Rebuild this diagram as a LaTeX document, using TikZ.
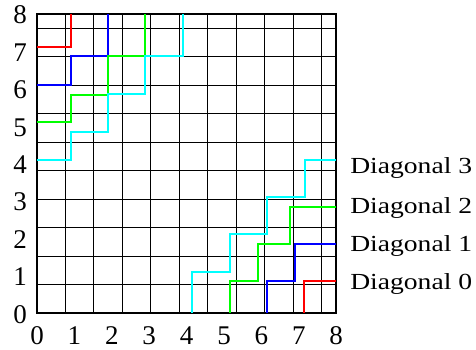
\documentclass[tikz,border=0pt]{standalone}
\usepackage{fontspec}
\setmainfont{Liberation Serif}
\definecolor{diagred}{RGB}{255,0,0}
\definecolor{diagblue}{RGB}{0,0,255}
\definecolor{diaggreen}{RGB}{0,255,0}
\definecolor{diagcyan}{RGB}{0,255,255}
\begin{document}
\begin{tikzpicture}[x=37.4pt,y=37.4pt,
	every node/.style={inner sep=0pt,font=\fontsize{27}{27}\selectfont},
	diaglabel/.style={anchor=base west,font=\fontsize{23}{23}\selectfont,xscale=1.2,transform shape},
	walk/.style={line width=2pt},
	d0/.style={walk,diagred}, d1/.style={walk,diagblue}, d2/.style={walk,diaggreen}, d3/.style={walk,diagcyan}]
	\useasboundingbox (-37pt,-37pt) rectangle (439pt,313pt);

	\draw[line width=1.1pt] (0,0) grid (8,8);
	\draw[line width=2pt] (0,0) rectangle (8,8);

	\foreach \k in {0,...,8} {
		\node[anchor=base] (x\k) at (\k,-0.85) {\k};
		\node[anchor=base] (y\k) at (-0.45,\k-0.27) {\k};
	}

	% diagonal 0
	\draw[d0] (0,7.12) -| (0.9,8);
	\draw[d0] (7.14,0) |- (8,0.86);
	% diagonal 1
	\draw[d1] (0,6.1) -| (0.9,6.86) -| (1.9,8);
	\draw[d1] (6.15,0) |- (6.9,0.86) |- (8,1.84);
	% diagonal 2
	\draw[d2] (0,5.1) -| (0.9,5.84) -| (1.9,6.86) -| (2.9,8);
	\draw[d2] (5.16,0) |- (5.9,0.86) |- (6.77,1.84) |- (8,2.84);
	% diagonal 3
	\draw[d3] (0,4.1) -| (0.9,4.85) -| (1.9,5.85) -| (2.9,6.86) -| (3.9,8);
	\draw[d3] (4.15,0) |- (5.16,1.09) |- (6.16,2.1) |- (7.16,3.09) |- (8,4.09);

	\node[diaglabel] (lab3) at (8.37,3.72) {Diagonal 3};
	\node[diaglabel] (lab2) at (8.37,2.65) {Diagonal 2};
	\node[diaglabel] (lab1) at (8.37,1.64) {Diagonal 1};
	\node[diaglabel] (lab0) at (8.37,0.615) {Diagonal 0};
\end{tikzpicture}
\end{document}
